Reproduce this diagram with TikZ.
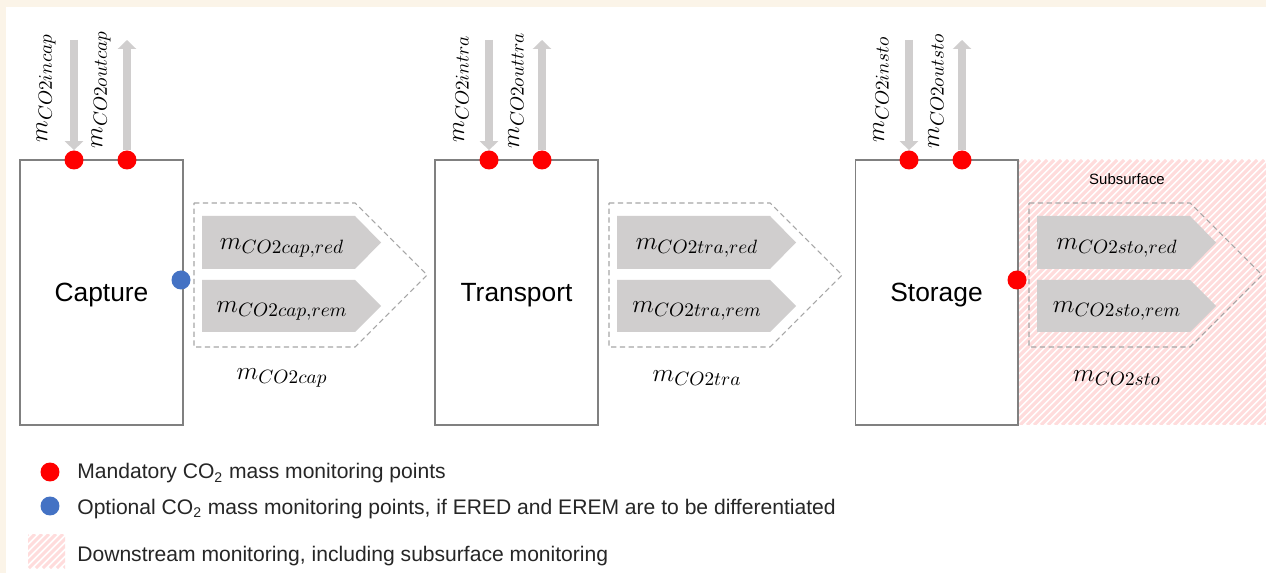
\documentclass[tikz,border=0pt]{standalone}
\usepackage{amsmath}
\usepackage{fontspec}
\setmainfont{Liberation Sans}
\usetikzlibrary{arrows.meta,positioning,calc}
\definecolor{pagecream}{HTML}{FBF4E8}
\definecolor{flowgray}{HTML}{D0CECE}
\definecolor{boxgray}{HTML}{808080}
\definecolor{dashgray}{HTML}{A6A6A6}
\definecolor{monred}{HTML}{FF0000}
\definecolor{monblue}{HTML}{4472C4}
\definecolor{hatchpink}{HTML}{FFDCDC}
\definecolor{legendtext}{HTML}{262626}

\begin{document}
\begin{tikzpicture}[x=0.02cm,y=-0.02cm,
  stagebox/.style={draw=boxgray,line width=0.6pt,minimum width=3.26cm,minimum height=5.3cm,inner sep=0pt,text depth=0pt,font=\fontsize{15}{18}\selectfont},
  dotred/.style={circle,fill=monred,minimum size=0.38cm,inner sep=0pt},
  dotblue/.style={circle,fill=monblue,minimum size=0.38cm,inner sep=0pt},
  flow/.style={draw=flowgray,line width=0.16cm,-{Triangle[width=0.36cm,length=0.18cm]}},
  envelope/.style={draw=dashgray,line width=0.6pt,dash pattern=on 3pt off 2pt},
  block/.style={fill=flowgray},
  mlabel/.style={inner sep=0pt,font=\fontsize{15.5}{18}\selectfont},
  hatch/.style={draw=hatchpink,line width=1.8pt},
  legend/.style={anchor=base west,inner sep=0pt,text=legendtext,font=\fontsize{12}{14}\selectfont}]
  \useasboundingbox (0,0) rectangle (1266,573);
  \fill[pagecream] (0,0) rectangle (1266,573);
  \fill[white] (6,7) rectangle (1266,573);
  % subsurface hatching
  \begin{scope}
    \clip (1019,160) rectangle (1266,425);
    \foreach \k in {0,...,76}{
      \draw[hatch] (754+\k*7,425) -- ++(265,-265);
    }
  \end{scope}
  \node[font=\fontsize{8.5}{10}\selectfont] (subsurface) at (1127,179) {Subsurface};
  \foreach \x/\s/\lab in {20/cap/Capture,435/tra/Transport,855/sto/Storage}{
    \node[stagebox] (box-\s) at (\x+81.5,292.5) {\lab};
    \node[dotred] (in-\s) at (\x+54,160) {};
    \node[dotred] (out-\s) at (\x+107,160) {};
    \coordinate (intop-\s) at (\x+54,40);
    \coordinate (outtop-\s) at (\x+107,40);
    \draw[flow] (intop-\s) -- (in-\s);
    \draw[flow] (out-\s) -- (outtop-\s);
    \node[mlabel,rotate=90,anchor=west] (inlbl-\s) at (\x+26,143) {$m_{CO2in\s}$};
    \node[mlabel,rotate=90,anchor=west] (outlbl-\s) at (\x+81,149) {$m_{CO2out\s}$};
    \draw[envelope] (\x+174,203) -- (\x+335,203) -- (\x+407,275) -- (\x+335,347) -- (\x+174,347) -- cycle;
    \fill[block] (\x+182,216) -- (\x+335,216) -- (\x+361,242.5) -- (\x+335,269) -- (\x+182,269) -- cycle;
    \fill[block] (\x+182,280) -- (\x+335,280) -- (\x+361,306) -- (\x+335,332) -- (\x+182,332) -- cycle;
    \node[mlabel] (red-\s) at (\x+262,248) {$m_{CO2\s,red}$};
    \node[mlabel] (rem-\s) at (\x+262,311) {$m_{CO2\s,rem}$};
    \node[mlabel] (total-\s) at (\x+262,378) {$m_{CO2\s}$};
  }
  \node[dotblue] (side-cap) at (181,280) {};
  \node[dotred] (side-sto) at (1017,280) {};
  % legend
  \node[dotred] (key-red) at (50,472) {};
  \node[legend] (keytext-red) at (77,479) {Mandatory CO\textsubscript{2} mass monitoring points};
  \node[dotblue] (key-blue) at (50,506) {};
  \node[legend] (keytext-blue) at (77,514) {Optional CO\textsubscript{2} mass monitoring points, if ERED and EREM are to be differentiated};
  \begin{scope}
    \clip (28,534) rectangle (65,568);
    \foreach \k in {0,...,11}{
      \draw[hatch] (-6+\k*7,568) -- ++(34,-34);
    }
  \end{scope}
  \node[legend] (keytext-hatch) at (77,561) {Downstream monitoring, including subsurface monitoring};
\end{tikzpicture}
\end{document}
